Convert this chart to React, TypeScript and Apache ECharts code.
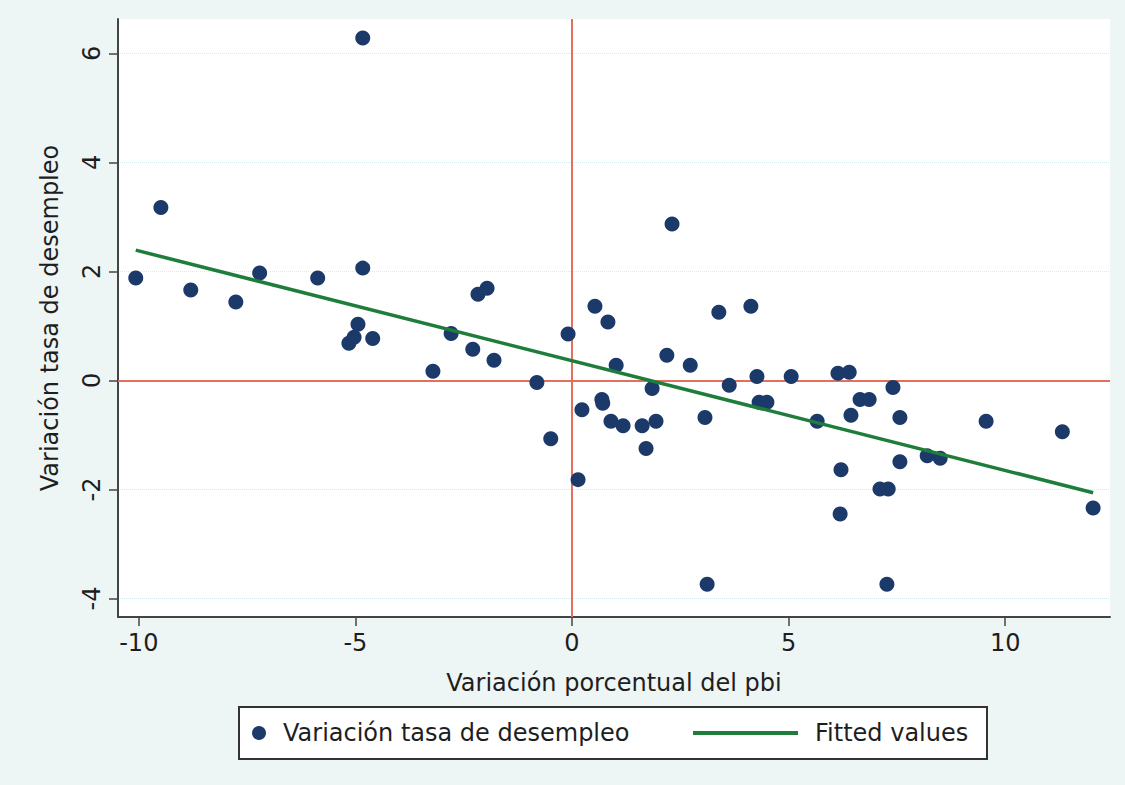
import React, { useEffect, useRef } from "react";
import * as echarts from "echarts";

// Variación porcentual del pbi (x) and Variación tasa de desempleo (y)
const pbiChange = [
  -10.07, -9.49, -8.8, -7.76, -7.21, -5.87, -4.83, -4.83, -4.94, -5.03, -5.15, -4.6,
  -3.21, -2.79, -2.29, -2.17, -1.96, -1.8, -0.81, -0.49, -0.09, 0.14, 0.23, 0.53,
  0.83, 1.02, 0.69, 0.71, 0.9, 1.18, 1.62, 1.94, 1.71, 1.85, 2.19, 2.31, 2.73, 3.07,
  3.12, 3.39, 3.63, 4.13, 4.27, 4.32, 4.5, 5.06, 5.66, 6.14, 6.4, 6.21, 6.19, 6.44,
  6.65, 6.86, 7.11, 7.3, 7.27, 7.41, 7.57, 7.57, 8.2, 8.5, 9.56, 11.32, 12.03,
];
const unempChange = [
  1.88, 3.17, 1.66, 1.44, 1.97, 1.88, 6.28, 2.06, 1.03, 0.79, 0.68, 0.77,
  0.17, 0.86, 0.57, 1.58, 1.69, 0.37, -0.04, -1.07, 0.85, -1.82, -0.54, 1.36,
  1.07, 0.28, -0.35, -0.42, -0.75, -0.83, -0.83, -0.75, -1.25, -0.15, 0.46, 2.87, 0.28, -0.68,
  -3.74, 1.25, -0.09, 1.36, 0.07, -0.4, -0.4, 0.07, -0.75, 0.13, 0.15, -1.64, -2.45, -0.64,
  -0.35, -0.35, -1.99, -1.99, -3.74, -0.13, -0.68, -1.49, -1.38, -1.43, -0.75, -0.94, -2.34,
];
// Fitted values (endpoints of the fitted line)
const fitX = [-10.07, 12.03];
const fitY = [2.39, -2.06];

const xTicks = [-10, -5, 0, 5, 10];
const yTicks = [-4, -2, 0, 2, 4, 6];
const yGridLines = [-4, -2, 2, 4, 6];

const scatterName = "Variación tasa de desempleo";
const fitName = "Fitted values";

export default function App() {
  const ref = useRef<HTMLDivElement>(null);
  useEffect(() => {
    const chart = echarts.init(ref.current!, null, { renderer: "svg" });
    const font = "DejaVu Sans";
    const txt = "#1e1e1e";
    const axisCol = "#444";
    const green = "#1f7d3c";
    chart.setOption({
      animation: false,
      backgroundColor: "#edf5f5",
      textStyle: { fontFamily: font },
      grid: {
        left: 118,
        right: 15,
        top: 19,
        bottom: 168,
        show: true,
        backgroundColor: "#ffffff",
        borderWidth: 0,
      },
      graphic: [
        {
          type: "rect",
          z: 0,
          shape: { x: 239, y: 707, width: 748, height: 52 },
          style: { fill: "#ffffff", stroke: "#333", lineWidth: 2 },
        },
      ],
      legend: [
        {
          data: [{ name: scatterName, icon: "circle" }],
          left: 252,
          top: 721,
          padding: 0,
          itemWidth: 14,
          itemHeight: 14,
          textStyle: { fontSize: 24, color: txt, fontFamily: font, padding: [0, 0, 0, 12] },
          selectedMode: false,
        },
        {
          data: [{ name: fitName, icon: "rect", itemStyle: { color: green } }],
          left: 693,
          top: 721,
          padding: 0,
          itemWidth: 105,
          itemHeight: 4,
          textStyle: { fontSize: 24, color: txt, fontFamily: font, padding: [0, 0, 0, 12] },
          selectedMode: false,
        },
      ],
      xAxis: {
        type: "value",
        min: -10.48,
        max: 12.42,
        name: "Variación porcentual del pbi",
        nameLocation: "middle",
        nameGap: 54,
        nameTextStyle: { fontSize: 24, color: txt, fontFamily: font },
        axisLine: { onZero: false, lineStyle: { color: axisCol, width: 2 } },
        axisTick: { customValues: xTicks, length: 9, lineStyle: { color: axisCol, width: 1.5 } },
        axisLabel: { customValues: xTicks, fontSize: 24, color: txt, margin: 14, fontFamily: font },
        splitLine: { show: false },
      },
      yAxis: {
        type: "value",
        min: -4.34,
        max: 6.63,
        name: "Variación tasa de desempleo",
        nameLocation: "middle",
        nameRotate: 90,
        nameGap: 56,
        nameTextStyle: { fontSize: 24, color: txt, fontFamily: font },
        axisLine: { onZero: false, lineStyle: { color: axisCol, width: 2 } },
        axisTick: { customValues: yTicks, length: 9, lineStyle: { color: axisCol, width: 1.5 } },
        axisLabel: { customValues: yTicks, fontSize: 24, color: txt, margin: 14, rotate: 90, fontFamily: font },
        splitLine: { show: false },
      },
      series: [
        {
          name: scatterName,
          type: "scatter",
          z: 3,
          symbol: "circle",
          symbolSize: 15,
          itemStyle: { color: "#1b3a6a", opacity: 1 },
          data: pbiChange.map((x, i) => [x, unempChange[i]]),
          markLine: {
            z: 1,
            silent: true,
            symbol: "none",
            label: { show: false },
            lineStyle: { color: "#e2705f", width: 2, type: "solid" },
            data: [{ xAxis: 0 }, { yAxis: 0 }],
          },
        },
        {
          name: fitName,
          type: "line",
          z: 4,
          symbol: "none",
          showSymbol: false,
          lineStyle: { color: green, width: 3.5 },
          itemStyle: { color: green },
          data: fitX.map((x, i) => [x, fitY[i]]),
          markLine: {
            z: 0,
            silent: true,
            symbol: "none",
            label: { show: false },
            lineStyle: { color: "#d3ecee", width: 1, type: "dotted" },
            data: yGridLines.map((v) => ({ yAxis: v })),
          },
        },
      ],
    });
    return () => chart.dispose();
  }, []);
  return (
    <div
      ref={ref}
      style={{ position: "fixed", left: 0, top: 0, width: 1125, height: 785 }}
    />
  );
}
